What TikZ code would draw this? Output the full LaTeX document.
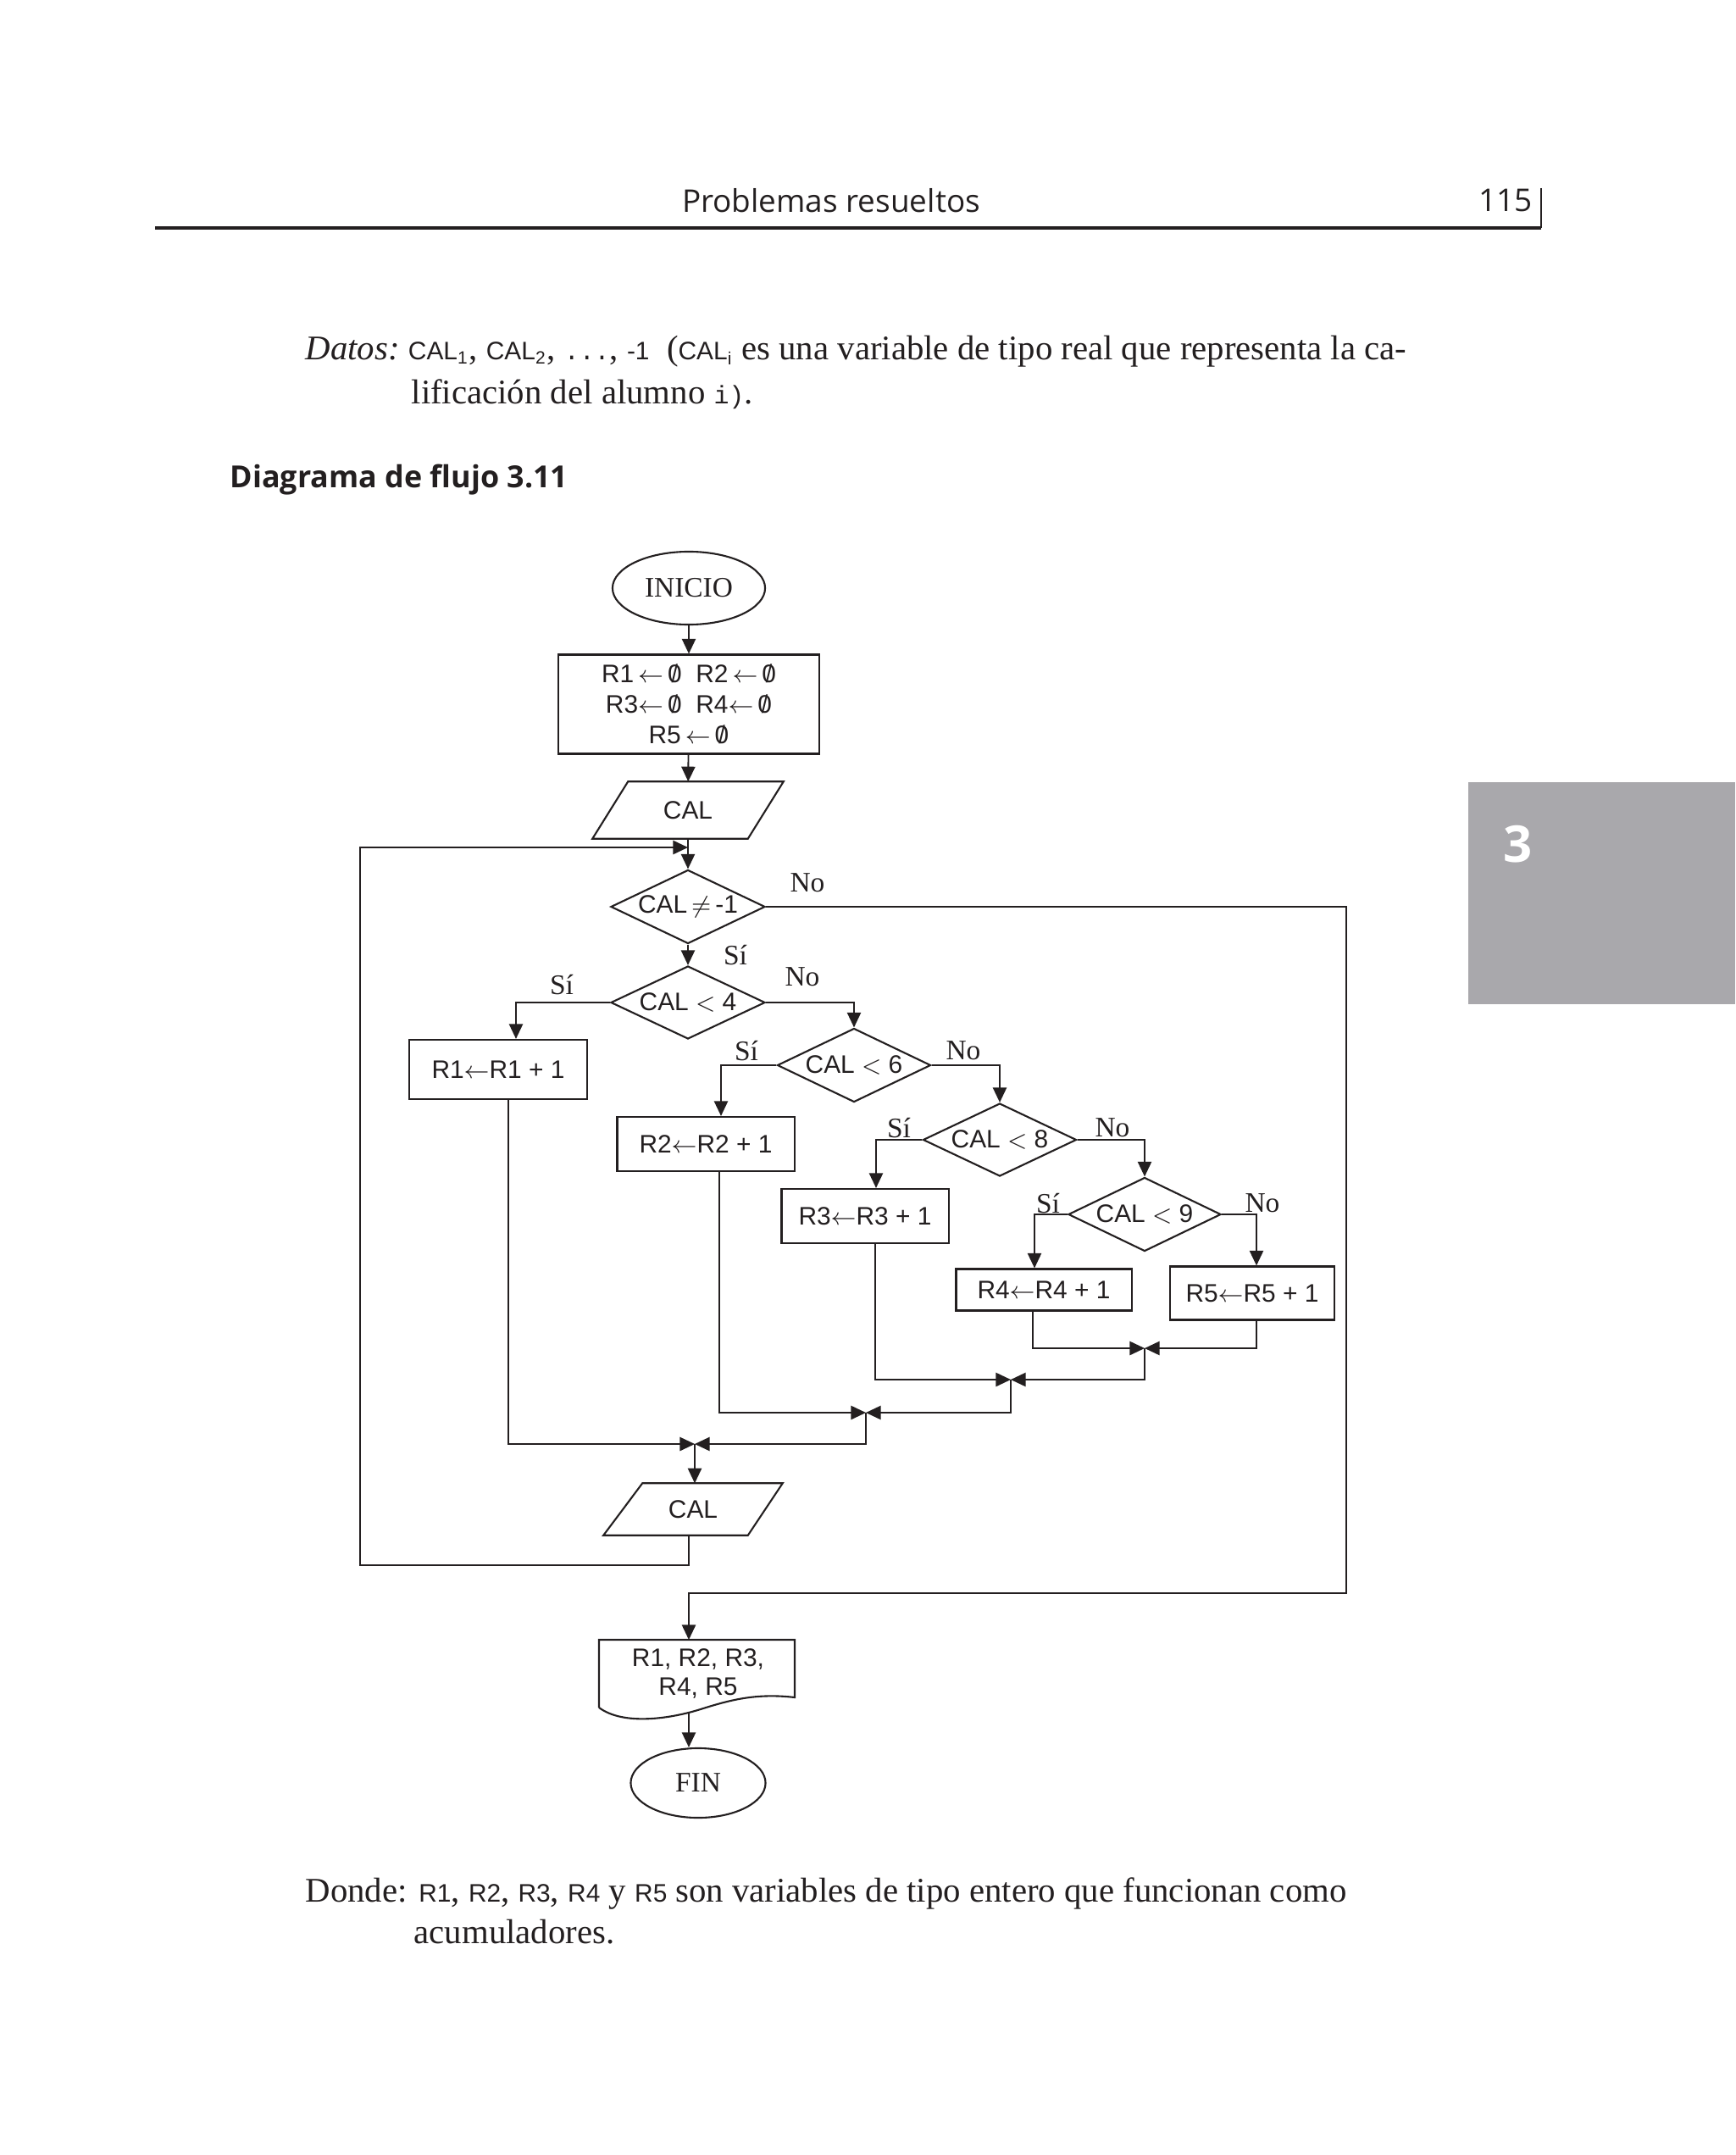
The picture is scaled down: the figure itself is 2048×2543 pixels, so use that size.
\documentclass[tikz,border=0pt]{standalone}
\usepackage{fontspec}
\setmainfont{Liberation Serif}
\newfontfamily\hsans{Liberation Sans}
\newfontfamily\hdr{Open Sans}
\newfontfamily\lmono{Liberation Mono}
\usetikzlibrary{shapes.geometric,arrows.meta,calc}
\newcommand{\zr}{{\hsans\ooalign{0\cr\hidewidth\scalebox{0.9}[1.0]{/}\hidewidth\cr}}}
\newcommand{\cd}{\hsans\fontsize{8.5}{10}\selectfont}
\definecolor{tabgray}{HTML}{A9A8AC}
\definecolor{ink}{HTML}{231F20}
\begin{document}
\begin{tikzpicture}[x=0.01cm,y=-0.01cm,color=ink,
  conn/.style={line width=0.55pt},
  arr/.style={line width=0.55pt,-{Triangle[length=5pt,width=4.6pt]}},
  proc/.style={draw,line width=0.6pt,rectangle,inner sep=0pt,font=\hsans\fontsize{8.5}{10.2}\selectfont},
  dec/.style={draw,line width=0.6pt,diamond,aspect=2,inner sep=0pt,font=\hsans\fontsize{8.5}{10}\selectfont},
  term/.style={draw,line width=0.6pt,ellipse,inner sep=0pt,font=\fontsize{9.5}{11}\selectfont},
  lab/.style={font=\fontsize{9.5}{11}\selectfont,inner sep=0pt},
  iotext/.style={inner sep=0pt,font=\hsans\fontsize{8.5}{10}\selectfont},
  para/.style={anchor=base west,inner sep=0pt,font=\fontsize{11.6}{14}\selectfont},
]
\useasboundingbox (0,0) rectangle (2048,2543);
\fill[white] (0,0) rectangle (2048,2543);

% header
\node[inner sep=0pt,font=\hdr\fontsize{10.5}{12}\selectfont] (hdr) at (981,237) {Problemas resueltos};
\node[inner sep=0pt,font=\hdr\fontsize{10.5}{12}\selectfont] (pg) at (1777,237) {115};
\draw[line width=1.3pt] (183,269) -- (1819,269);
\draw[line width=0.5pt] (1819,222) -- (1819,269);

% paragraph Datos
\node[para] (datos1) at (360,425) {\textit{Datos:}\ {\cd CAL\textsubscript{1}}, {\cd CAL\textsubscript{2}}, {\lmono\fontsize{8.5}{10}\selectfont...}, {\cd -1}\ \ ({\cd CAL\textsubscript{i}} es una variable de tipo real que representa la ca-};
\node[para] (datos2) at (485,477) {lificación del alumno {\lmono\fontsize{8.5}{10}\selectfont i)}.};

\node[anchor=west,inner sep=0pt,font=\hdr\bfseries\fontsize{10.2}{12}\selectfont] (title) at (271,566) {Diagrama de flujo 3.11};

% chapter tab
\fill[tabgray] (1733,923) rectangle (2048,1185);
\node[inner sep=0pt,text=white,font=\hdr\bfseries\fontsize{17}{20}\selectfont] (tab) at (1792,996) {3};

% flowchart nodes
\node[term,minimum width=1.80cm,minimum height=0.86cm] (ini) at (813,694) {INICIO};
\node[proc,minimum width=3.07cm,minimum height=1.17cm,align=center] (b1) at (813,831)
  {R1\,$\leftarrow$\,\zr\ \ R2\,$\leftarrow$\,\zr\\ R3$\leftarrow$\,\zr\ \ R4$\leftarrow$\,\zr\\ R5\,$\leftarrow$\,\zr};
\node[iotext,minimum width=2.24cm,minimum height=0.66cm] (cal1) at (812,956) {CAL};
\draw[line width=0.6pt] (cal1.south west) -- ($(cal1.north west)+(42,0)$) -- (cal1.north east) -- ($(cal1.south east)+(-42,0)$) -- cycle;

\node[dec,minimum width=1.82cm,minimum height=0.87cm] (d1) at (812,1070) {\makebox[0pt]{CAL$\,\neq\,$-1}};
\node[dec,minimum width=1.82cm,minimum height=0.86cm] (d2) at (812,1183) {\makebox[0pt]{CAL $<$ 4}};
\node[dec,minimum width=1.81cm,minimum height=0.87cm] (d3) at (1008,1257) {\makebox[0pt]{CAL $<$ 6}};
\node[dec,minimum width=1.81cm,minimum height=0.86cm] (d4) at (1180,1345) {\makebox[0pt]{CAL $<$ 8}};
\node[dec,minimum width=1.80cm,minimum height=0.87cm] (d5) at (1351,1433) {\makebox[0pt]{CAL $<$ 9}};

\node[proc,minimum width=2.10cm,minimum height=0.70cm] (r1) at (588,1262) {R1$\leftarrow$R1 + 1};
\node[proc,minimum width=2.09cm,minimum height=0.64cm] (r2) at (833,1350) {R2$\leftarrow$R2 + 1};
\node[proc,minimum width=1.97cm,minimum height=0.64cm] (r3) at (1021,1435) {R3$\leftarrow$R3 + 1};
\node[proc,minimum width=2.07cm,minimum height=0.49cm] (r4) at (1232,1522) {R4$\leftarrow$R4 + 1\hspace{9pt}};
\node[proc,minimum width=1.94cm,minimum height=0.63cm] (r5) at (1478,1526) {R5$\leftarrow$R5 + 1};

\coordinate (mA) at (1351,1591);
\coordinate (mB) at (1193,1628);
\coordinate (mC) at (1022,1667);
\coordinate (mD) at (820,1704);

\node[iotext,minimum width=2.10cm,minimum height=0.60cm] (cal2) at (818,1781) {CAL};
\draw[line width=0.6pt] (cal2.south west) -- ($(cal2.north west)+(46,0)$) -- (cal2.north east) -- ($(cal2.south east)+(-41,0)$) -- cycle;

\node[iotext,align=center,font=\hsans\fontsize{8.5}{9.7}\selectfont] (doc) at (824,1975) {R1, R2, R3,\\R4, R5};
\draw[line width=0.6pt] (707,2015) -- (707,1935) -- (938,1935) -- (938,2003)
  .. controls (895,1998) and (865,2005) .. (830,2016)
  .. controls (790,2029) and (735,2036) .. (707,2015);
\coordinate (doctop) at (813,1935);
\coordinate (docbot) at (813,2022);

\node[term,minimum width=1.59cm,minimum height=0.82cm] (fin) at (824,2104) {FIN};

% labels
\node[lab] (lno1) at (953,1042) {No};
\node[lab] (lsi1) at (868,1127) {Sí};
\node[lab] (lsi2) at (663,1162) {Sí};
\node[lab] (lno2) at (947,1153) {No};
\node[lab] (lsi3) at (881,1240) {Sí};
\node[lab] (lno3) at (1137,1240) {No};
\node[lab] (lsi4) at (1061,1331) {Sí};
\node[lab] (lno4) at (1313,1331) {No};
\node[lab] (lsi5) at (1237,1420) {Sí};
\node[lab] (lno5) at (1490,1420) {No};

% connectors
\draw[arr] (ini) -- (b1);
\draw[arr] (b1) -- (cal1);
\draw[arr] (cal1.south) -- (d1.north);
\draw[arr] (d1.south) -- (d2.north);
\coordinate (loopin) at (812,1000);
\coordinate (lft) at (425,1000);
\draw[arr] ($(cal2.south)+(-5,0)$) -- ++(0,35) -| (lft) -- (loopin);
\coordinate (rgt) at (1589,1880);
\draw[arr] (d1.east) -| (rgt) -| (doctop);

\draw[arr] (d2.west) -| ($(r1.north)+(21,0)$);
\draw[arr] (d2.east) -| (d3.north);
\draw[arr] (d3.west) -| ($(r2.north)+(18,0)$);
\draw[arr] (d3.east) -| (d4.north);
\draw[arr] (d4.west) -| ($(r3.north)+(13,0)$);
\draw[arr] (d4.east) -| (d5.north);
\draw[arr] (d5.west) -| ($(r4.north)+(-11,0)$);
\draw[arr] (d5.east) -| ($(r5.north)+(5,0)$);

\draw[arr] ($(r4.south)+(-13,0)$) |- (mA);
\draw[arr] ($(r5.south)+(5,0)$) |- (mA);
\draw[arr] ($(r3.south)+(12,0)$) |- (mB);
\draw[arr] (mA) |- (mB);
\draw[arr] ($(r2.south)+(16,0)$) |- (mC);
\draw[arr] (mB) |- (mC);
\draw[arr] ($(r1.south)+(12,0)$) |- (mD);
\draw[arr] (mC) |- (mD);
\draw[arr] (mD) -- (mD |- cal2.north);
\draw[arr] (docbot) -- (docbot |- fin.north);

% paragraph Donde
\node[para] (donde1) at (360,2244) {Donde: {\cd R1}, {\cd R2}, {\cd R3}, {\cd R4} y {\cd R5} son variables de tipo entero que funcionan como};
\node[para] (donde2) at (488,2293) {acumuladores.};
\end{tikzpicture}
\end{document}
